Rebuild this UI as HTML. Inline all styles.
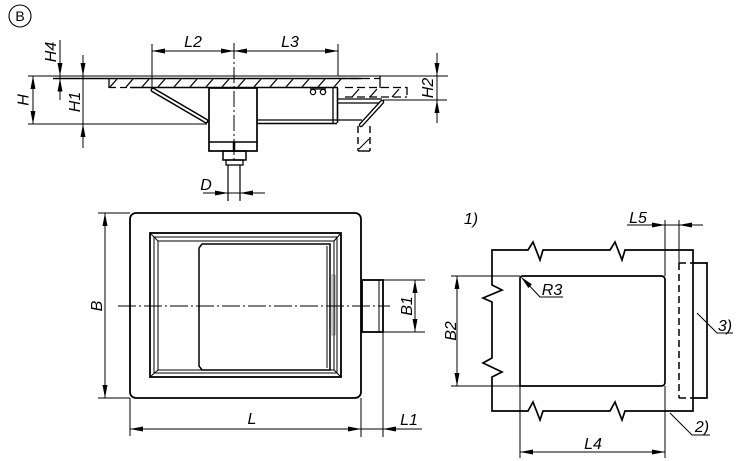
<!DOCTYPE html>
<html><head><meta charset="utf-8"><style>
html,body{margin:0;padding:0;background:#fff;}
svg{display:block;}
text{font-family:"Liberation Sans",sans-serif;font-style:italic;font-size:16px;fill:#000;}
</style></head><body>
<svg width="750" height="461" viewBox="0 0 750 461" xmlns="http://www.w3.org/2000/svg">
<g fill="none" stroke="#000" stroke-width="1">
<!-- ===== TOP VIEW ===== -->
<circle cx="20" cy="16" r="11" stroke-width="1.1"/>
<line x1="28" y1="76" x2="448" y2="76"/>
<line x1="53" y1="78.5" x2="362" y2="78.5" stroke-width="1.5"/>
<line x1="130" y1="87.5" x2="338" y2="87.5" stroke-width="1.6"/>
<line x1="109" y1="78" x2="109" y2="88" stroke-width="1.3"/>
<line x1="109" y1="87.5" x2="130" y2="87.5" stroke-width="1.3" stroke-dasharray="7,4"/>
<g stroke-width="1.3">
<line x1="110" y1="87" x2="117" y2="79"/><line x1="126" y1="87" x2="133" y2="79"/>
<line x1="142" y1="87" x2="149" y2="79"/><line x1="158" y1="87" x2="165" y2="79"/>
<line x1="174" y1="87" x2="181" y2="79"/><line x1="190" y1="87" x2="197" y2="79"/>
<line x1="206" y1="87" x2="213" y2="79"/><line x1="222" y1="87" x2="229" y2="79"/>
<line x1="238" y1="87" x2="245" y2="79"/><line x1="254" y1="87" x2="261" y2="79"/>
<line x1="270" y1="87" x2="277" y2="79"/><line x1="286" y1="87" x2="293" y2="79"/>
<line x1="302" y1="87" x2="309" y2="79"/><line x1="318" y1="87" x2="325" y2="79"/>
<line x1="334" y1="87" x2="341" y2="79"/>
</g>
<g stroke-width="1.3" stroke-dasharray="8,4">
<line x1="338" y1="78.5" x2="380" y2="78.5"/>
<line x1="345" y1="87.5" x2="407" y2="87.5"/>
<line x1="345" y1="97" x2="407" y2="97"/>
<line x1="407" y1="87" x2="407" y2="97"/>
</g>
<line x1="380" y1="76" x2="380" y2="88" stroke-width="1.3"/>
<line x1="352" y1="97" x2="359" y2="89" stroke-width="1.2"/>
<line x1="370" y1="97" x2="377" y2="89" stroke-width="1.2"/>
<line x1="392" y1="97" x2="399" y2="89" stroke-width="1.2"/>
<line x1="153" y1="90" x2="206" y2="121" stroke-width="5" stroke-linecap="round"/>
<line x1="153" y1="90" x2="206" y2="121" stroke-width="2" stroke="#fff" stroke-linecap="round"/>
<line x1="28" y1="124" x2="207" y2="124"/>
<rect x="209" y="88" width="48" height="63" stroke-width="1.7"/>
<line x1="209" y1="142" x2="257" y2="142" stroke-width="1.4"/>
<rect x="223" y="151" width="23" height="9" stroke-width="1.5"/>
<rect x="226" y="160" width="17" height="5" stroke-width="1.3"/>
<line x1="234" y1="142" x2="234" y2="152" stroke-width="2.5"/>
<line x1="228" y1="165" x2="228" y2="201" stroke-width="1.2"/>
<line x1="240" y1="165" x2="240" y2="201" stroke-width="1.2"/>
<line x1="257" y1="120" x2="337" y2="120" stroke-width="1.3"/>
<line x1="257" y1="123.5" x2="337" y2="123.5" stroke-width="1.5"/>
<line x1="333" y1="88" x2="333" y2="123" stroke-width="1.3"/>
<line x1="337.5" y1="88" x2="337.5" y2="123" stroke-width="1.6"/>
<circle cx="313" cy="92" r="2.6" stroke-width="1.3"/>
<circle cx="323" cy="92" r="2.6" stroke-width="1.3"/>
<line x1="310" y1="89" x2="326" y2="89" stroke-width="1.2"/>
<line x1="338" y1="99" x2="382" y2="99" stroke-width="1.3"/>
<line x1="338" y1="103" x2="382" y2="103" stroke-width="1.3"/>
<line x1="338" y1="120" x2="362" y2="120" stroke-width="1.3"/>
<line x1="382" y1="102" x2="361" y2="125" stroke-width="4.5" stroke-linecap="round"/>
<line x1="382" y1="102" x2="361" y2="125" stroke-width="1.8" stroke="#fff" stroke-linecap="round"/>
<g stroke-width="1.4" stroke-dasharray="7,4">
<line x1="358" y1="126" x2="358" y2="151"/>
<line x1="370" y1="126" x2="370" y2="151"/>
</g>
<line x1="358" y1="151" x2="370" y2="151" stroke-width="1.4"/>
<line x1="359" y1="149" x2="369" y2="139" stroke-width="1.1"/>
<line x1="234" y1="43" x2="234" y2="162" stroke-dasharray="16,3,2,3"/>
<line x1="60" y1="40" x2="60" y2="100"/>
<line x1="33" y1="76" x2="33" y2="124"/>
<line x1="83" y1="55" x2="83" y2="148"/>
<line x1="152" y1="44" x2="152" y2="88"/>
<line x1="338" y1="44" x2="338" y2="76"/>
<line x1="152" y1="51" x2="338" y2="51"/>
<line x1="437" y1="53" x2="437" y2="123"/>
<line x1="383" y1="100" x2="447" y2="100"/>
<line x1="203" y1="193" x2="265" y2="193"/>

<!-- ===== BOTTOM LEFT VIEW ===== -->
<rect x="130" y="213" width="231" height="185" rx="6" stroke-width="1.8"/>
<rect x="150" y="233" width="191" height="144" stroke-width="1.8"/>
<rect x="154" y="237" width="183" height="136" stroke-width="1"/>
<rect x="158" y="241" width="176" height="129" stroke-width="1"/>
<line x1="150" y1="233" x2="158" y2="241"/>
<line x1="341" y1="233" x2="334" y2="241"/>
<line x1="150" y1="377" x2="158" y2="370"/>
<line x1="341" y1="377" x2="334" y2="370"/>
<path d="M202,244 L199,248 L199,366 L202,370 L330,370 L330,244 Z" stroke-width="1.5"/>
<line x1="327" y1="246" x2="327" y2="368"/>
<rect x="332" y="275" width="3" height="60" stroke-width="0.6" stroke="#555"/>
<rect x="362" y="280" width="21" height="52" stroke-width="1.8"/>
<line x1="379" y1="280" x2="379" y2="332"/>
<line x1="118" y1="306" x2="390" y2="306" stroke-dasharray="18,3,2,3"/>
<line x1="98" y1="213" x2="130" y2="213"/>
<line x1="98" y1="398" x2="130" y2="398"/>
<line x1="105" y1="213" x2="105" y2="398"/>
<line x1="383" y1="280" x2="425" y2="280"/>
<line x1="383" y1="332" x2="425" y2="332"/>
<line x1="415" y1="280" x2="415" y2="332"/>
<line x1="130" y1="398" x2="130" y2="436"/>
<line x1="361" y1="398" x2="361" y2="437"/>
<line x1="383" y1="332" x2="383" y2="437"/>
<line x1="130" y1="429" x2="422" y2="429"/>

<!-- ===== BOTTOM RIGHT VIEW ===== -->
<path d="M492,285 L492,250 L528,250 L533,242 L540,260 L543,250 L610,250 L615,242 L622,260 L625,250 L693,250 L693,411 L625,411 L622,420 L615,402 L610,411 L543,411 L540,420 L533,402 L528,411 L492,411 L492,377 L502,372 L483,363 L492,358 L492,302 L483,298 L502,290 Z" stroke-width="1.7" stroke-linejoin="miter"/>
<path d="M523,276 L661,276 Q665,276 665,280 L665,382 Q665,386 661,386 L520,386 L520,279 Q520,276 523,276 Z" stroke-width="1.7"/>
<line x1="520" y1="386" x2="520" y2="458"/>
<line x1="665" y1="220" x2="665" y2="276"/>
<line x1="665" y1="386" x2="665" y2="458"/>
<line x1="679" y1="220" x2="679" y2="263"/>
<line x1="627" y1="225" x2="703" y2="225"/>
<g stroke-width="1.5" stroke-dasharray="7,4">
<line x1="679" y1="263" x2="679" y2="398"/>
<line x1="679" y1="263" x2="693" y2="263"/>
<line x1="679" y1="398" x2="693" y2="398"/>
</g>
<path d="M693,263 L707,263 L707,398 L693,398" stroke-width="1.7"/>
<line x1="451" y1="276" x2="520" y2="276"/>
<line x1="451" y1="386" x2="520" y2="386"/>
<line x1="457" y1="276" x2="457" y2="386"/>
<line x1="520" y1="452" x2="665" y2="452"/>
<path d="M522,278 L540,297 L563,297"/>
<path d="M697,313 L717,333 L733,333"/>
<path d="M670,413 L692,435 L710,435"/>
</g>

<g fill="#000" stroke="none">
<polygon points="60,76 57.5,63 62.5,63"/>
<polygon points="60,78.5 57.5,91.5 62.5,91.5"/>
<polygon points="33,76 30.5,89 35.5,89"/>
<polygon points="33,124 30.5,111 35.5,111"/>
<polygon points="83,76 80.5,63 85.5,63"/>
<polygon points="83,124 80.5,137 85.5,137"/>
<polygon points="152,51 165,48.5 165,53.5"/>
<polygon points="234,51 221,48.5 221,53.5"/>
<polygon points="234,51 247,48.5 247,53.5"/>
<polygon points="338,51 325,48.5 325,53.5"/>
<polygon points="437,76 434.5,63 439.5,63"/>
<polygon points="437,100 434.5,113 439.5,113"/>
<polygon points="228,193 215,190.5 215,195.5"/>
<polygon points="240,193 253,190.5 253,195.5"/>
<polygon points="105,213 102.5,226 107.5,226"/>
<polygon points="105,398 102.5,385 107.5,385"/>
<polygon points="415,280 412.5,293 417.5,293"/>
<polygon points="415,332 412.5,319 417.5,319"/>
<polygon points="130,429 143,426.5 143,431.5"/>
<polygon points="361,429 348,426.5 348,431.5"/>
<polygon points="383,429 396,426.5 396,431.5"/>
<polygon points="457,276 454.5,289 459.5,289"/>
<polygon points="457,386 454.5,373 459.5,373"/>
<polygon points="520,452 533,449.5 533,454.5"/>
<polygon points="665,452 652,449.5 652,454.5"/>
<polygon points="665,225 652,222.5 652,227.5"/>
<polygon points="679,225 692,222.5 692,227.5"/>
<polygon points="521,277 531.9,284.4 528.4,288"/>
</g>

<text x="20" y="21" text-anchor="middle" style="font-style:normal;font-size:14px">B</text>
<text transform="translate(56,52) rotate(-90)" text-anchor="middle">H4</text>
<text transform="translate(28.5,100) rotate(-90)" text-anchor="middle">H</text>
<text transform="translate(80,102) rotate(-90)" text-anchor="middle">H1</text>
<text transform="translate(433,88) rotate(-90)" text-anchor="middle">H2</text>
<text x="193" y="47" text-anchor="middle">L2</text>
<text x="290" y="47" text-anchor="middle">L3</text>
<text x="206" y="190" text-anchor="middle">D</text>
<text transform="translate(102,306) rotate(-90)" text-anchor="middle">B</text>
<text transform="translate(412,306) rotate(-90)" text-anchor="middle">B1</text>
<text x="252" y="424" text-anchor="middle">L</text>
<text x="409" y="425" text-anchor="middle">L1</text>
<text x="471" y="224" text-anchor="middle">1)</text>
<text transform="translate(456,331) rotate(-90)" text-anchor="middle">B2</text>
<text x="552" y="295" text-anchor="middle">R3</text>
<text x="593" y="449" text-anchor="middle">L4</text>
<text x="638" y="223" text-anchor="middle">L5</text>
<text x="725" y="331" text-anchor="middle">3)</text>
<text x="702" y="432" text-anchor="middle">2)</text>
</svg>
</body></html>
